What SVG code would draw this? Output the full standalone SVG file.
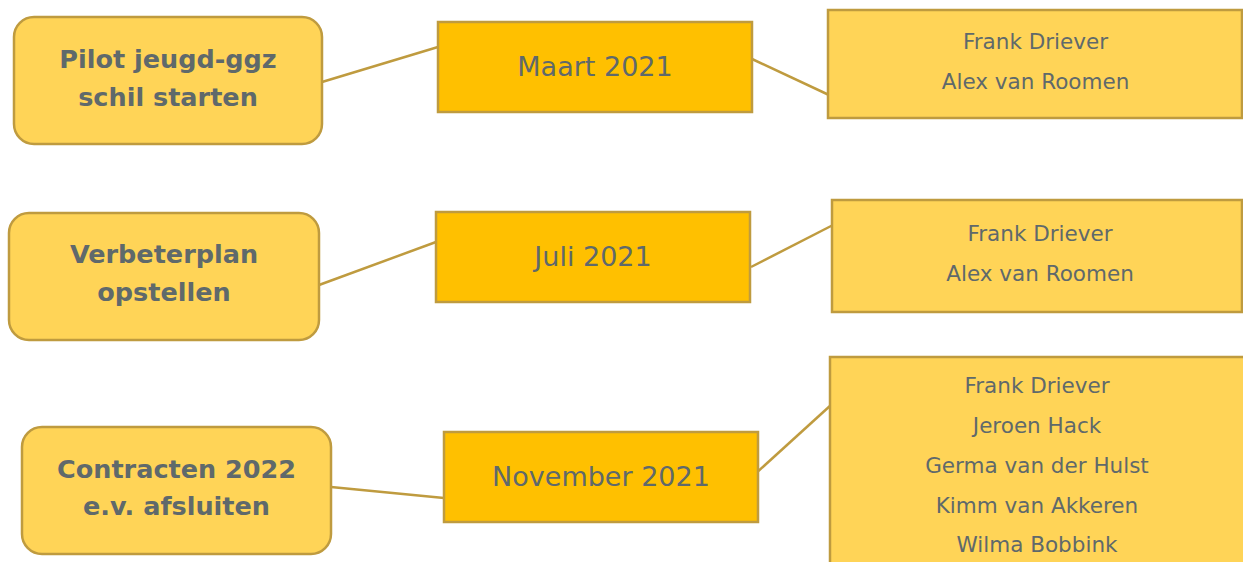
<svg xmlns="http://www.w3.org/2000/svg" width="1243" height="562" viewBox="0 0 1243 562">
<style>
.lt{fill:#FFD457;stroke:#BF9B3F;stroke-width:2.5}
.dk{fill:#FFC000;stroke:#BF9B3F;stroke-width:2.5}
.ttl{font-family:"DejaVu Sans",sans-serif;font-weight:bold;font-size:25.5px;fill:#5F696B;text-anchor:middle}
.dt{font-family:"DejaVu Sans",sans-serif;font-size:27px;fill:#5F696B;text-anchor:middle}
.nm{font-family:"DejaVu Sans",sans-serif;font-size:21.5px;fill:#5F696B;text-anchor:middle}
.cn{stroke:#BF9B3F;stroke-width:2.5;fill:none}
</style>
<rect width="1243" height="562" fill="#FFFFFF"/>
<g id="connectors">
<line class="cn" x1="322" y1="82" x2="438" y2="47"/>
<line class="cn" x1="752" y1="59" x2="829" y2="95"/>
<line class="cn" x1="319" y1="285" x2="436" y2="242"/>
<line class="cn" x1="751" y1="267" x2="833" y2="225"/>
<line class="cn" x1="331" y1="487" x2="444" y2="498"/>
<line class="cn" x1="754" y1="475" x2="831" y2="405"/>
</g>
<g id="task1">
<rect class="lt" x="14" y="17" width="308" height="127" rx="20"/>
<text class="ttl" x="168" y="68">Pilot jeugd-ggz</text>
<text class="ttl" x="168" y="106">schil starten</text>
</g>
<g id="task2">
<rect class="lt" x="9" y="213" width="310" height="127" rx="20"/>
<text class="ttl" x="164" y="263">Verbeterplan</text>
<text class="ttl" x="164" y="301">opstellen</text>
</g>
<g id="task3">
<rect class="lt" x="22" y="427" width="309" height="127" rx="20"/>
<text class="ttl" x="176.5" y="478">Contracten 2022</text>
<text class="ttl" x="176.5" y="515">e.v. afsluiten</text>
</g>
<g id="date1">
<rect class="dk" x="438" y="22" width="314" height="90"/>
<text class="dt" x="595" y="76">Maart 2021</text>
</g>
<g id="date2">
<rect class="dk" x="436" y="212" width="314" height="90"/>
<text class="dt" x="593" y="266">Juli 2021</text>
</g>
<g id="date3">
<rect class="dk" x="444" y="432" width="314" height="90"/>
<text class="dt" x="601" y="486">November 2021</text>
</g>
<g id="people1">
<rect class="lt" x="828" y="10" width="414" height="108"/>
<text class="nm" x="1035.5" y="49">Frank Driever</text>
<text class="nm" x="1035.5" y="89">Alex van Roomen</text>
</g>
<g id="people2">
<rect class="lt" x="832" y="200" width="410" height="112"/>
<text class="nm" x="1040" y="241">Frank Driever</text>
<text class="nm" x="1040" y="281">Alex van Roomen</text>
</g>
<g id="people3">
<rect class="lt" x="830" y="357" width="420" height="220"/>
<text class="nm" x="1037" y="393">Frank Driever</text>
<text class="nm" x="1037" y="433">Jeroen Hack</text>
<text class="nm" x="1037" y="473">Germa van der Hulst</text>
<text class="nm" x="1037" y="513">Kimm van Akkeren</text>
<text class="nm" x="1037" y="552">Wilma Bobbink</text>
</g>
</svg>
